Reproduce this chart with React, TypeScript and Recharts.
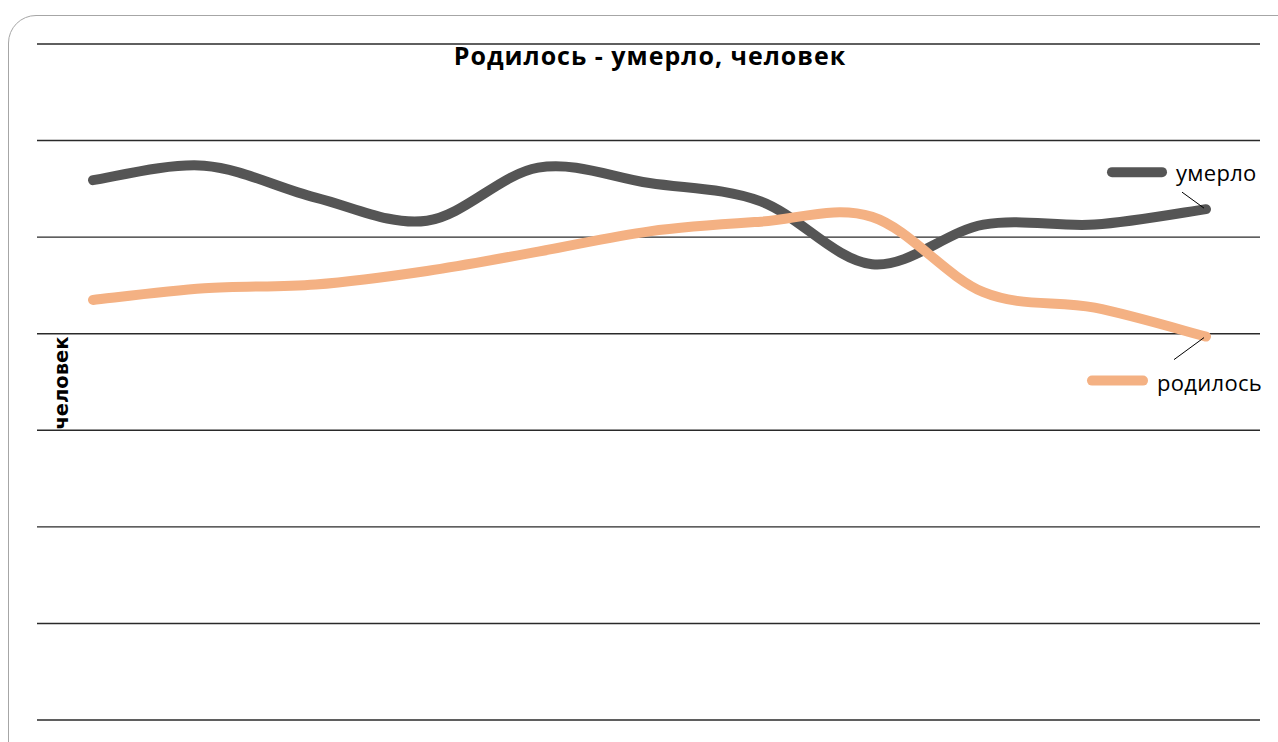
import { LineChart, Line, XAxis, YAxis, CartesianGrid, LabelList } from 'recharts';

const periods = ['1', '2', '3', '4', '5', '6', '7', '8', '9', '10', '11'];
const died = [559, 574, 541, 517, 572, 556, 537, 472, 513, 513, 529];
const born = [435, 447, 451, 465, 485, 506, 516, 521, 443, 427, 397];
const yTicks = [0, 100, 200, 300, 400, 500, 600, 700];

const data = periods.map((p, i) => ({ period: p, died: died[i], born: born[i] }));

const DARK = '#555555';
const ORANGE = '#F4B183';
const FONT = '"Open Sans", "Noto Sans", sans-serif';

// smooth line like the office "smoothed line" (catmull-rom through the points)
function smoothCurve(context: any) {
  let pts: number[][] = [];
  return {
    areaStart() {},
    areaEnd() {},
    lineStart() { pts = []; },
    point(x: number, y: number) { pts.push([+x, +y]); },
    lineEnd() {
      if (!pts.length) return;
      context.moveTo(pts[0][0], pts[0][1]);
      for (let i = 0; i < pts.length - 1; i++) {
        const p0 = pts[i - 1] || pts[i];
        const p1 = pts[i];
        const p2 = pts[i + 1];
        const p3 = pts[i + 2] || p2;
        context.bezierCurveTo(
          p1[0] + (p2[0] - p0[0]) / 6, p1[1] + (p2[1] - p0[1]) / 6,
          p2[0] - (p3[0] - p1[0]) / 6, p2[1] - (p3[1] - p1[1]) / 6,
          p2[0], p2[1]
        );
      }
    },
  };
}

const endLabel = (name: string, color: string, below: boolean) => (props: any) => {
  const { x, y, index } = props;
  if (index !== periods.length - 1) return null;
  if (below) {
    return (
      <g>
        <line x1={x - 32} y1={y + 23} x2={x - 2} y2={y + 1} stroke="#000" strokeWidth={1} />
        <line x1={x - 114} y1={y + 44} x2={x - 63} y2={y + 44} stroke={color} strokeWidth={10} strokeLinecap="round" />
        <text x={x - 49} y={y + 54} fontSize={22} letterSpacing={0.3} fontFamily={FONT} fill="#000">{name}</text>
      </g>
    );
  }
  return (
    <g>
      <line x1={x - 24} y1={y - 17} x2={x - 2} y2={y - 1} stroke="#000" strokeWidth={1} />
      <line x1={x - 94} y1={y - 37} x2={x - 44} y2={y - 37} stroke={color} strokeWidth={10} strokeLinecap="round" />
      <text x={x - 30} y={y - 28} fontSize={22} letterSpacing={0.3} fontFamily={FONT} fill="#000">{name}</text>
    </g>
  );
};

export default function App() {
  return (
    <div style={{ position: 'fixed', left: 0, top: 0, width: 1278, height: 742, overflow: 'hidden', background: '#fff' }}>
      <div
        style={{
          position: 'absolute', left: 8, top: 15, width: 1300, height: 760,
          border: '1.5px solid #a6a6a6', borderRadius: 28, boxSizing: 'border-box',
        }}
      />
      <LineChart
        width={1278}
        height={742}
        data={data}
        margin={{ top: 44, right: 18, left: 37, bottom: 22 }}
        style={{ position: 'absolute', left: 0, top: 0 }}
      >
        <CartesianGrid vertical={false} stroke="#2a2a2a" strokeWidth={1.4} />
        <XAxis dataKey="period" hide padding={{ left: 56, right: 54 }} />
        <YAxis hide domain={[0, 700]} ticks={yTicks} />
        <Line
          dataKey="died"
          name="умерло"
          type={smoothCurve as any}
          stroke={DARK}
          strokeWidth={10}
          strokeLinecap="round"
          dot={false}
          isAnimationActive={false}
        >
          <LabelList dataKey="died" content={endLabel('умерло', DARK, false)} />
        </Line>
        <Line
          dataKey="born"
          name="родилось"
          type={smoothCurve as any}
          stroke={ORANGE}
          strokeWidth={10}
          strokeLinecap="round"
          dot={false}
          isAnimationActive={false}
        >
          <LabelList dataKey="born" content={endLabel('родилось', ORANGE, true)} />
        </Line>
      </LineChart>
      <div
        style={{
          position: 'absolute', left: 0, top: 38, width: 1300, textAlign: 'center',
          fontFamily: FONT, fontWeight: 700, fontSize: 25, letterSpacing: 1, color: '#000',
        }}
      >
        Родилось - умерло, человек
      </div>
      <div
        style={{
          position: 'absolute', left: 61, top: 383, transform: 'translate(-50%, -50%) rotate(-90deg)',
          fontFamily: '"DejaVu Sans", sans-serif', fontWeight: 700, fontSize: 19.5, color: '#000', whiteSpace: 'nowrap',
        }}
      >
        человек
      </div>
    </div>
  );
}
